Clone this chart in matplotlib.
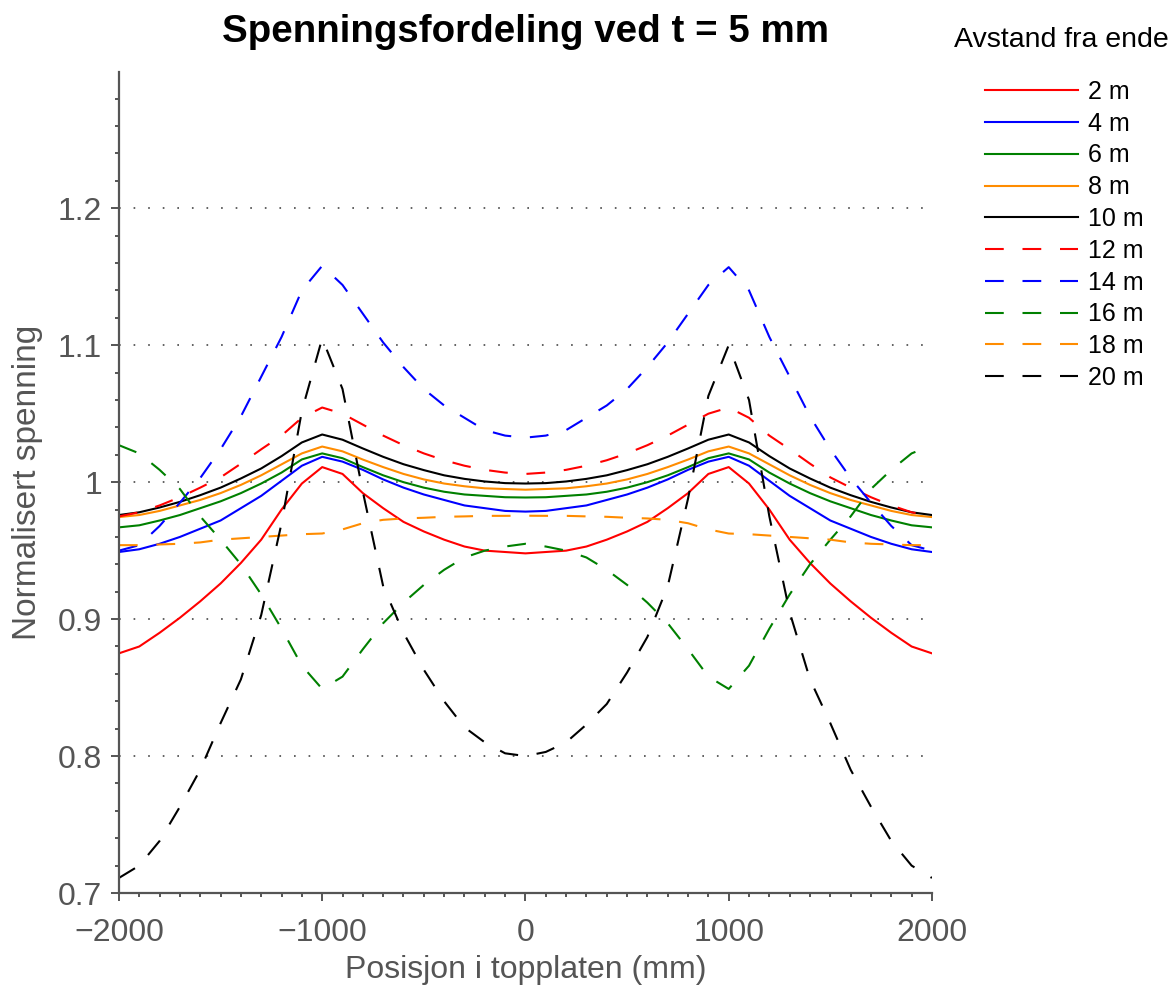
import numpy as np
import matplotlib
matplotlib.use('Agg')
import matplotlib.pyplot as plt
from matplotlib.ticker import MultipleLocator, FormatStrFormatter

plt.rcParams['font.family'] = ['Liberation Sans', 'DejaVu Sans']
plt.rcParams['lines.scale_dashes'] = False

# position along top plate (mm)
x = np.arange(-2000, 2001, 100)

# normalised stress, distance from end
s2 = [0.875, 0.880, 0.890, 0.901, 0.913, 0.926, 0.941, 0.958, 0.980, 0.999, 1.011,
      1.006, 0.992, 0.981, 0.971, 0.964, 0.958, 0.953, 0.950, 0.949, 0.948,
      0.949, 0.950, 0.953, 0.958, 0.964, 0.971, 0.981, 0.992, 1.006, 1.011,
      0.999, 0.980, 0.958, 0.941, 0.926, 0.913, 0.901, 0.890, 0.880, 0.875]
s4 = [0.949, 0.951, 0.955, 0.960, 0.966, 0.972, 0.981, 0.990, 1.001, 1.012, 1.0185,
      1.015, 1.009, 1.002, 0.996, 0.991, 0.987, 0.983, 0.981, 0.979, 0.9785,
      0.979, 0.981, 0.983, 0.987, 0.991, 0.996, 1.002, 1.009, 1.015, 1.0185,
      1.012, 1.001, 0.990, 0.981, 0.972, 0.966, 0.960, 0.955, 0.951, 0.949]
s6 = [0.967, 0.9685, 0.972, 0.976, 0.981, 0.986, 0.992, 0.999, 1.007, 1.0166, 1.021,
      1.0175, 1.011, 1.005, 1.000, 0.996, 0.993, 0.991, 0.990, 0.989, 0.9888,
      0.989, 0.990, 0.991, 0.993, 0.996, 1.000, 1.005, 1.011, 1.0175, 1.021,
      1.0166, 1.007, 0.999, 0.992, 0.986, 0.981, 0.976, 0.972, 0.9685, 0.967]
s8 = [0.9745, 0.976, 0.979, 0.983, 0.987, 0.992, 0.998, 1.005, 1.013, 1.021, 1.026,
      1.0225, 1.0165, 1.011, 1.006, 1.002, 0.999, 0.997, 0.9955, 0.995, 0.9945,
      0.995, 0.9955, 0.997, 0.999, 1.002, 1.006, 1.011, 1.0165, 1.0225, 1.026,
      1.021, 1.013, 1.005, 0.998, 0.992, 0.987, 0.983, 0.979, 0.976, 0.9745]
s10 = [0.976, 0.978, 0.9815, 0.9856, 0.9905, 0.996, 1.0027, 1.010, 1.019, 1.029, 1.0348,
       1.031, 1.0246, 1.0185, 1.0131, 1.0088, 1.005, 1.0024, 1.0005, 0.9993, 0.999,
       0.9993, 1.0005, 1.0024, 1.005, 1.0088, 1.0131, 1.0185, 1.0246, 1.031, 1.0348,
       1.029, 1.019, 1.010, 1.0027, 0.996, 0.9905, 0.9856, 0.9815, 0.978, 0.976]
s12 = [0.975, 0.978, 0.983, 0.989, 0.996, 1.0035, 1.0135, 1.024, 1.034, 1.047, 1.0545,
       1.050, 1.042, 1.034, 1.027, 1.021, 1.016, 1.012, 1.009, 1.007, 1.006,
       1.007, 1.009, 1.012, 1.016, 1.021, 1.027, 1.034, 1.042, 1.050, 1.0545,
       1.047, 1.034, 1.024, 1.0135, 1.0035, 0.996, 0.989, 0.983, 0.978, 0.975]
s14 = [0.950, 0.954, 0.968, 0.985, 1.003, 1.024, 1.048, 1.077, 1.106, 1.140, 1.158,
       1.144, 1.123, 1.102, 1.084, 1.068, 1.056, 1.047, 1.038, 1.034, 1.0325,
       1.034, 1.038, 1.047, 1.056, 1.068, 1.084, 1.102, 1.123, 1.144, 1.157,
       1.140, 1.106, 1.077, 1.048, 1.024, 1.003, 0.985, 0.968, 0.954, 0.950]
s16 = [1.027, 1.021, 1.009, 0.995, 0.975, 0.958, 0.940, 0.918, 0.893, 0.866, 0.849,
       0.858, 0.878, 0.897, 0.912, 0.925, 0.936, 0.945, 0.950, 0.953, 0.955,
       0.953, 0.950, 0.945, 0.936, 0.925, 0.912, 0.897, 0.878, 0.858, 0.849,
       0.866, 0.893, 0.918, 0.940, 0.958, 0.975, 0.995, 1.009, 1.021, 1.027]
s18 = [0.954, 0.954, 0.9545, 0.955, 0.956, 0.958, 0.959, 0.960, 0.961, 0.962, 0.9625,
       0.9655, 0.970, 0.9725, 0.9735, 0.974, 0.9747, 0.975, 0.9754, 0.9754, 0.9755,
       0.9754, 0.9754, 0.975, 0.9747, 0.974, 0.9735, 0.9725, 0.970, 0.9655, 0.9625,
       0.962, 0.961, 0.960, 0.959, 0.958, 0.956, 0.955, 0.9545, 0.954, 0.954]
s20 = [0.711, 0.720, 0.738, 0.763, 0.790, 0.824, 0.856, 0.903, 0.970, 1.052, 1.105,
       1.068, 0.993, 0.924, 0.890, 0.863, 0.840, 0.821, 0.810, 0.802, 0.800,
       0.803, 0.810, 0.823, 0.838, 0.861, 0.887, 0.924, 0.988, 1.063, 1.100,
       1.060, 0.975, 0.905, 0.856, 0.824, 0.790, 0.763, 0.738, 0.720, 0.711]

series = [s2, s4, s6, s8, s10, s12, s14, s16, s18, s20]
labels = ['2 m', '4 m', '6 m', '8 m', '10 m', '12 m', '14 m', '16 m', '18 m', '20 m']
colors = ['#ff0000', '#0000ff', '#008000', '#ff8c00', '#000000'] * 2

grey = '#555555'

fig = plt.figure(figsize=(11.73, 9.85), dpi=100)
ax = fig.add_axes([0.1014, 0.0934, 0.6931, 0.8335])

for i, (y, lab, c) in enumerate(zip(series, labels, colors)):
    if i < 5:
        ax.plot(x, y, color=c, lw=1.5, label=lab)
    else:
        ax.plot(x, y, color=c, lw=1.5, label=lab, dashes=(13.5, 13.5))

ax.set_xlim(-2000, 2000)
ax.set_ylim(0.7, 1.2995)
ax.set_yticks([0.7, 0.8, 0.9, 1.0, 1.1, 1.2])
ax.set_xticks([-2000, -1000, 0, 1000, 2000])
ax.xaxis.set_minor_locator(MultipleLocator(100))
ax.yaxis.set_minor_locator(MultipleLocator(0.02))
ax.yaxis.set_major_formatter(FormatStrFormatter('%g'))

ax.yaxis.grid(True, which='major', linestyle=(0, (1.2, 9.3)), color=grey, lw=1.3)
ax.set_axisbelow(True)

for side in ['top', 'right']:
    ax.spines[side].set_visible(False)
for side in ['left', 'bottom']:
    ax.spines[side].set_color(grey)
    ax.spines[side].set_linewidth(1.6)

ax.tick_params(which='major', direction='out', length=6, width=1.4, color=grey,
               labelcolor=grey, labelsize=23)
ax.tick_params(which='minor', direction='out', length=3, width=1.4, color=grey)
ax.tick_params(axis='x', which='major', pad=12)
ax.tick_params(axis='y', which='major', pad=6)

ax.set_xlabel('Posisjon i topplaten (mm)', fontsize=23, color=grey)
ax.set_ylabel('Normalisert spenning', fontsize=24, color=grey)
ax.xaxis.set_label_coords(0.5, -0.076)
ax.yaxis.set_label_coords(-0.093, 0.5)

fig.text(0.448, 1 - 32 / 985, 'Spenningsfordeling ved t = 5 mm',
         fontsize=27.7, fontweight='bold', ha='center', va='center')

fig.text(1061.5 / 1173, 1 - 40 / 985, 'Avstand fra ende', fontsize=20.5,
         ha='center', va='center')

leg = ax.legend(loc='upper left', bbox_to_anchor=(985 / 1173, 1 - 80 / 985),
                bbox_transform=fig.transFigure, frameon=False, fontsize=18,
                handlelength=3.7, handletextpad=0.4, labelspacing=0.31,
                borderaxespad=0, borderpad=0)

fig.savefig('out.png', dpi=100)
